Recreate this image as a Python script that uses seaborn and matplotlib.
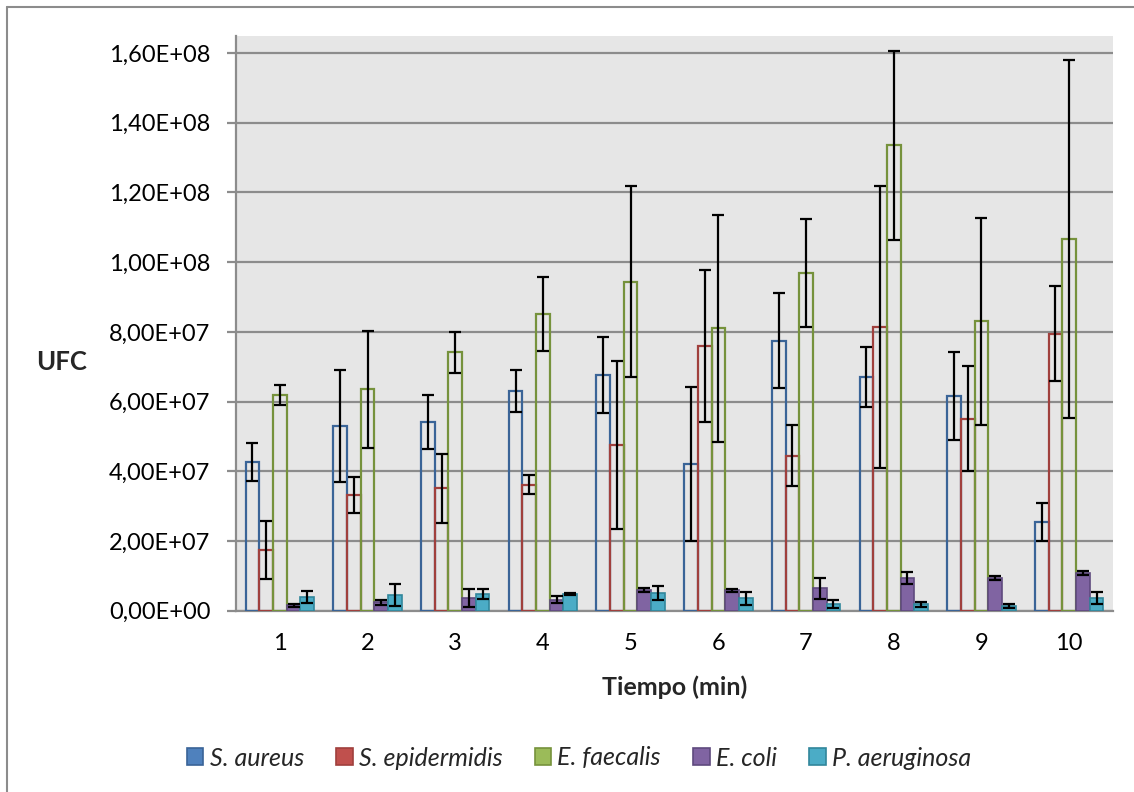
import numpy as np
import pandas as pd
import matplotlib
matplotlib.use('Agg')
import matplotlib.pyplot as plt
import seaborn as sns
from matplotlib.patches import Patch
from matplotlib.lines import Line2D
from matplotlib.ticker import FuncFormatter

# Data (UFC, units of 1e7)
tiempo = ['1', '2', '3', '4', '5', '6', '7', '8', '9', '10']
especies = ['S. aureus', 'S. epidermidis', 'E. faecalis', 'E. coli', 'P. aeruginosa']

aureus = [4.26, 5.30, 5.41, 6.31, 6.75, 4.21, 7.75, 6.71, 6.16, 2.55]
aureus_err = [0.55, 1.61, 0.78, 0.61, 1.09, 2.20, 1.36, 0.86, 1.26, 0.55]
epidermidis = [1.75, 3.31, 3.51, 3.61, 4.76, 7.60, 4.45, 8.14, 5.51, 7.95]
epidermidis_err = [0.83, 0.52, 0.98, 0.27, 2.41, 2.19, 0.87, 4.05, 1.50, 1.37]
faecalis = [6.19, 6.35, 7.41, 8.51, 9.44, 8.10, 9.70, 13.35, 8.30, 10.66]
faecalis_err = [0.29, 1.67, 0.60, 1.06, 2.74, 3.25, 1.55, 2.71, 2.98, 5.13]
coli = [0.15, 0.24, 0.36, 0.32, 0.60, 0.58, 0.65, 0.93, 0.95, 1.08]
coli_err = [0.04, 0.08, 0.26, 0.10, 0.05, 0.03, 0.30, 0.17, 0.06, 0.05]
aeruginosa = [0.39, 0.46, 0.48, 0.48, 0.51, 0.36, 0.20, 0.19, 0.14, 0.36]
aeruginosa_err = [0.18, 0.32, 0.13, 0.02, 0.19, 0.19, 0.12, 0.07, 0.05, 0.17]

valores = [aureus, epidermidis, faecalis, coli, aeruginosa]
errores = [aureus_err, epidermidis_err, faecalis_err, coli_err, aeruginosa_err]

colores = ['#4F81BD', '#C0504D', '#9BBB59', '#8064A2', '#4BACC6']
bordes = ['#3A6497', '#A0403D', '#76923C', '#5F4A7E', '#31869B']

rows = []
for sp, vals in zip(especies, valores):
    for t, v in zip(tiempo, vals):
        rows.append({'Tiempo': t, 'UFC': v * 1e7, 'Especie': sp})
df = pd.DataFrame(rows)

sns.set_theme(style='white')
plt.rcParams['font.family'] = ['Lato', 'DejaVu Sans']

fig = plt.figure(figsize=(11.34, 7.92), dpi=100)
ax = fig.add_axes([236 / 1134, 1 - 610.7 / 792, 877 / 1134, 574.7 / 792])

sns.barplot(data=df, x='Tiempo', y='UFC', hue='Especie', order=tiempo, hue_order=especies,
            palette=colores, width=0.78, errorbar=None, legend=False, ax=ax)

bar_containers = list(ax.containers)

# first three series are drawn as outlines only, last two filled
for i, cont in enumerate(bar_containers):
    for bar in cont:
        if i < 3:
            bar.set_facecolor('none')
            bar.set_edgecolor(bordes[i])
            bar.set_linewidth(1.6)
        else:
            bar.set_facecolor(colores[i])
            bar.set_edgecolor(bordes[i])
            bar.set_linewidth(1.2)
        bar.set_zorder(3)
    xs = [b.get_x() + b.get_width() / 2 for b in cont]
    ys = [b.get_height() for b in cont]
    err = np.array(errores[i]) * 1e7
    ax.errorbar(xs, ys, yerr=err, fmt='none', ecolor='black', elinewidth=1.6,
                capsize=4.5, capthick=1.6, zorder=4)

ax.set_facecolor('#E6E6E6')
ax.set_ylim(0, 1.649e8)
ax.set_xlim(-0.5, 9.5)
ax.set_yticks(np.arange(0, 1.61e8, 2e7))
ax.yaxis.set_major_formatter(FuncFormatter(lambda v, p: f'{v:.2E}'.replace('.', ',')))
ax.grid(axis='y', color='#8C8C8C', linewidth=1.6)
ax.set_axisbelow(True)

for s in ['top', 'right']:
    ax.spines[s].set_visible(False)
for s in ['left', 'bottom']:
    ax.spines[s].set_color('#8C8C8C')
    ax.spines[s].set_linewidth(1.6)

ax.tick_params(axis='y', direction='out', length=6.5, width=1.6, color='#8C8C8C',
               pad=12, labelsize=17, labelcolor='black', left=True)
ax.tick_params(axis='x', length=0, pad=16, labelsize=17, labelcolor='black')

ax.set_xlabel('Tiempo (min)', fontsize=18, fontweight='bold')
ax.xaxis.set_label_coords(0.5, -0.134)
ax.xaxis.label.set_va('center')
ax.set_ylabel('UFC', fontsize=18.5, fontweight='bold', rotation=0)
ax.yaxis.set_label_coords((62 - 236) / 877, (610.7 - 362) / 574.7)
ax.yaxis.label.set_va('center')
ax.yaxis.label.set_ha('center')

handles = [Patch(facecolor=c, edgecolor=b, linewidth=1.2) for c, b in zip(colores, bordes)]
fig.legend(handles, especies, loc='center', bbox_to_anchor=(579 / 1134, 1 - 758 / 792),
           ncol=5, frameon=False, prop={'family': 'Lato', 'style': 'italic', 'size': 18},
           handlelength=0.65, handleheight=0.65, handletextpad=0.25, columnspacing=1.3)

# chart frame (cut off at right and bottom)
fig.add_artist(Line2D([7 / 1134, 1], [1 - 7 / 792, 1 - 7 / 792], transform=fig.transFigure,
                      color='#8C8C8C', linewidth=1.5))
fig.add_artist(Line2D([7 / 1134, 7 / 1134], [1 - 7 / 792, 0], transform=fig.transFigure,
                      color='#8C8C8C', linewidth=1.5))

fig.savefig('out.png', dpi=100)
